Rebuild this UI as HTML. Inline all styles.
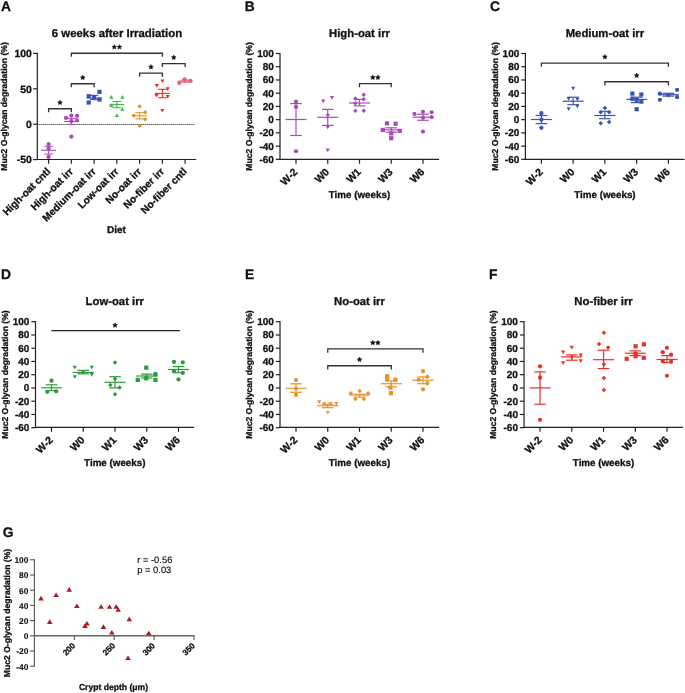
<!DOCTYPE html>
<html><head><meta charset="utf-8"><style>
html,body{margin:0;padding:0;background:#fff;width:685px;height:693px;overflow:hidden}
svg{display:block;will-change:transform}
text{text-rendering:geometricPrecision;stroke-width:0.3px;font-family:"Liberation Sans", sans-serif}
</style></head><body>
<svg width="685" height="693" viewBox="0 0 685 693">
<rect width="685" height="693" fill="#fff"/>
<text x="1.00" y="10.90" font-size="13.8" font-weight="bold" text-anchor="start" fill="#111" stroke="#111">A</text>
<text x="117.00" y="37.20" font-size="11.4" font-weight="bold" text-anchor="middle" fill="#111" stroke="#111">6 weeks after Irradiation</text>
<line x1="37.30" y1="52.80" x2="37.30" y2="160.10" stroke="#222" stroke-width="1.2"/>
<line x1="33.10" y1="53.40" x2="37.30" y2="53.40" stroke="#222" stroke-width="1.2"/>
<text x="31.80" y="57.10" font-size="10.4" font-weight="bold" text-anchor="end" fill="#111" stroke="#111">100</text>
<line x1="33.10" y1="88.80" x2="37.30" y2="88.80" stroke="#222" stroke-width="1.2"/>
<text x="31.80" y="92.50" font-size="10.4" font-weight="bold" text-anchor="end" fill="#111" stroke="#111">50</text>
<line x1="33.10" y1="124.20" x2="37.30" y2="124.20" stroke="#222" stroke-width="1.2"/>
<text x="31.80" y="127.90" font-size="10.4" font-weight="bold" text-anchor="end" fill="#111" stroke="#111">0</text>
<line x1="33.10" y1="159.60" x2="37.30" y2="159.60" stroke="#222" stroke-width="1.2"/>
<text x="31.80" y="163.30" font-size="10.4" font-weight="bold" text-anchor="end" fill="#111" stroke="#111">-50</text>
<line x1="36.70" y1="159.50" x2="196.20" y2="159.50" stroke="#222" stroke-width="1.2"/>
<line x1="48.60" y1="159.50" x2="48.60" y2="163.70" stroke="#222" stroke-width="1.2"/>
<text x="51.00" y="172.10" font-size="10.2" font-weight="bold" text-anchor="end" fill="#111" stroke="#111" transform="rotate(-45 51.00 172.10)">High-oat cntl</text>
<line x1="71.35" y1="159.50" x2="71.35" y2="163.70" stroke="#222" stroke-width="1.2"/>
<text x="73.75" y="172.10" font-size="10.2" font-weight="bold" text-anchor="end" fill="#111" stroke="#111" transform="rotate(-45 73.75 172.10)">High-oat irr</text>
<line x1="94.10" y1="159.50" x2="94.10" y2="163.70" stroke="#222" stroke-width="1.2"/>
<text x="96.50" y="172.10" font-size="10.2" font-weight="bold" text-anchor="end" fill="#111" stroke="#111" transform="rotate(-45 96.50 172.10)">Medium-oat irr</text>
<line x1="116.85" y1="159.50" x2="116.85" y2="163.70" stroke="#222" stroke-width="1.2"/>
<text x="119.25" y="172.10" font-size="10.2" font-weight="bold" text-anchor="end" fill="#111" stroke="#111" transform="rotate(-45 119.25 172.10)">Low-oat irr</text>
<line x1="139.60" y1="159.50" x2="139.60" y2="163.70" stroke="#222" stroke-width="1.2"/>
<text x="142.00" y="172.10" font-size="10.2" font-weight="bold" text-anchor="end" fill="#111" stroke="#111" transform="rotate(-45 142.00 172.10)">No-oat irr</text>
<line x1="162.35" y1="159.50" x2="162.35" y2="163.70" stroke="#222" stroke-width="1.2"/>
<text x="164.75" y="172.10" font-size="10.2" font-weight="bold" text-anchor="end" fill="#111" stroke="#111" transform="rotate(-45 164.75 172.10)">No-fiber irr</text>
<line x1="185.10" y1="159.50" x2="185.10" y2="163.70" stroke="#222" stroke-width="1.2"/>
<text x="187.50" y="172.10" font-size="10.2" font-weight="bold" text-anchor="end" fill="#111" stroke="#111" transform="rotate(-45 187.50 172.10)">No-fiber cntl</text>
<line x1="37.30" y1="124.5" x2="195" y2="124.5" stroke="#222" stroke-width="1.1" stroke-dasharray="1.1 0.9"/>
<text x="7.40" y="106.45" font-size="8.6" font-weight="bold" text-anchor="middle" fill="#111" stroke="#111" transform="rotate(-90 7.40 106.45)">Muc2 O-glycan degradation (%)</text>
<text x="116.50" y="232.60" font-size="10" font-weight="bold" text-anchor="middle" fill="#111" stroke="#111">Diet</text>
<circle cx="48.60" cy="144.10" r="2.10" fill="#a64db5"/>
<circle cx="48.60" cy="148.50" r="2.10" fill="#a64db5"/>
<circle cx="48.60" cy="156.90" r="2.10" fill="#a64db5"/>
<line x1="41.10" y1="150.30" x2="56.10" y2="150.30" stroke="#a64db5" stroke-width="1.1"/>
<line x1="48.60" y1="146.30" x2="48.60" y2="154.10" stroke="#a64db5" stroke-width="1.1"/>
<line x1="44.40" y1="146.30" x2="52.80" y2="146.30" stroke="#a64db5" stroke-width="1.1"/>
<line x1="44.40" y1="154.10" x2="52.80" y2="154.10" stroke="#a64db5" stroke-width="1.1"/>
<circle cx="65.95" cy="117.90" r="2.10" fill="#a64db5"/>
<circle cx="71.35" cy="115.60" r="2.10" fill="#a64db5"/>
<circle cx="77.05" cy="115.90" r="2.10" fill="#a64db5"/>
<circle cx="71.35" cy="121.20" r="2.10" fill="#a64db5"/>
<circle cx="77.05" cy="120.30" r="2.10" fill="#a64db5"/>
<circle cx="71.35" cy="136.60" r="2.10" fill="#a64db5"/>
<line x1="63.85" y1="121.50" x2="78.85" y2="121.50" stroke="#a64db5" stroke-width="1.1"/>
<line x1="71.35" y1="118.50" x2="71.35" y2="124.50" stroke="#a64db5" stroke-width="1.1"/>
<line x1="67.15" y1="118.50" x2="75.55" y2="118.50" stroke="#a64db5" stroke-width="1.1"/>
<line x1="67.15" y1="124.50" x2="75.55" y2="124.50" stroke="#a64db5" stroke-width="1.1"/>
<rect x="86.60" y="94.10" width="4.20" height="4.20" fill="#3b55b0"/>
<rect x="92.00" y="95.10" width="4.20" height="4.20" fill="#3b55b0"/>
<rect x="97.40" y="89.80" width="4.20" height="4.20" fill="#3b55b0"/>
<rect x="97.40" y="97.40" width="4.20" height="4.20" fill="#3b55b0"/>
<rect x="86.60" y="100.40" width="4.20" height="4.20" fill="#3b55b0"/>
<line x1="86.60" y1="98.00" x2="101.60" y2="98.00" stroke="#3b55b0" stroke-width="1.1"/>
<line x1="94.10" y1="95.30" x2="94.10" y2="99.60" stroke="#3b55b0" stroke-width="1.1"/>
<line x1="89.90" y1="95.30" x2="98.30" y2="95.30" stroke="#3b55b0" stroke-width="1.1"/>
<line x1="89.90" y1="99.60" x2="98.30" y2="99.60" stroke="#3b55b0" stroke-width="1.1"/>
<path d="M111.35 95.10L113.45 98.78L109.25 98.78Z" fill="#3cb84a"/>
<path d="M122.35 95.10L124.45 98.78L120.25 98.78Z" fill="#3cb84a"/>
<path d="M111.35 103.30L113.45 106.98L109.25 106.98Z" fill="#3cb84a"/>
<path d="M122.35 107.00L124.45 110.67L120.25 110.67Z" fill="#3cb84a"/>
<path d="M116.85 113.20L118.95 116.88L114.75 116.88Z" fill="#3cb84a"/>
<line x1="109.35" y1="104.60" x2="124.35" y2="104.60" stroke="#3cb84a" stroke-width="1.1"/>
<line x1="116.85" y1="101.50" x2="116.85" y2="107.70" stroke="#3cb84a" stroke-width="1.1"/>
<line x1="112.65" y1="101.50" x2="121.05" y2="101.50" stroke="#3cb84a" stroke-width="1.1"/>
<line x1="112.65" y1="107.70" x2="121.05" y2="107.70" stroke="#3cb84a" stroke-width="1.1"/>
<path d="M139.60 104.35L141.85 106.60L139.60 108.85L137.35 106.60Z" fill="#e8922a"/>
<path d="M145.20 110.05L147.45 112.30L145.20 114.55L142.95 112.30Z" fill="#e8922a"/>
<path d="M133.70 113.35L135.95 115.60L133.70 117.85L131.45 115.60Z" fill="#e8922a"/>
<path d="M145.20 116.95L147.45 119.20L145.20 121.45L142.95 119.20Z" fill="#e8922a"/>
<path d="M139.60 123.55L141.85 125.80L139.60 128.05L137.35 125.80Z" fill="#e8922a"/>
<line x1="132.10" y1="115.80" x2="147.10" y2="115.80" stroke="#e8922a" stroke-width="1.1"/>
<line x1="139.60" y1="112.70" x2="139.60" y2="118.90" stroke="#e8922a" stroke-width="1.1"/>
<line x1="135.40" y1="112.70" x2="143.80" y2="112.70" stroke="#e8922a" stroke-width="1.1"/>
<line x1="135.40" y1="118.90" x2="143.80" y2="118.90" stroke="#e8922a" stroke-width="1.1"/>
<path d="M162.35 83.10L164.45 79.42L160.25 79.42Z" fill="#e8302a"/>
<path d="M156.85 87.80L158.95 84.12L154.75 84.12Z" fill="#e8302a"/>
<path d="M167.65 90.90L169.75 87.22L165.55 87.22Z" fill="#e8302a"/>
<path d="M156.55 97.60L158.65 93.92L154.45 93.92Z" fill="#e8302a"/>
<path d="M167.65 98.70L169.75 95.02L165.55 95.02Z" fill="#e8302a"/>
<path d="M162.35 112.60L164.45 108.92L160.25 108.92Z" fill="#e8302a"/>
<line x1="154.85" y1="93.40" x2="169.85" y2="93.40" stroke="#e8302a" stroke-width="1.1"/>
<line x1="162.35" y1="89.30" x2="162.35" y2="97.70" stroke="#e8302a" stroke-width="1.1"/>
<line x1="158.15" y1="89.30" x2="166.55" y2="89.30" stroke="#e8302a" stroke-width="1.1"/>
<line x1="158.15" y1="97.70" x2="166.55" y2="97.70" stroke="#e8302a" stroke-width="1.1"/>
<circle cx="179.30" cy="83.00" r="2.10" fill="#e06474"/>
<circle cx="184.60" cy="79.40" r="2.10" fill="#e06474"/>
<circle cx="190.50" cy="80.90" r="2.10" fill="#e06474"/>
<line x1="177.60" y1="81.10" x2="192.60" y2="81.10" stroke="#e06474" stroke-width="1.1"/>
<line x1="185.10" y1="80.06" x2="185.10" y2="82.14" stroke="#e06474" stroke-width="1.1"/>
<line x1="180.90" y1="80.06" x2="189.30" y2="80.06" stroke="#e06474" stroke-width="1.1"/>
<line x1="180.90" y1="82.14" x2="189.30" y2="82.14" stroke="#e06474" stroke-width="1.1"/>
<path d="M48.60 112.15V108.75H71.35V112.15" fill="none" stroke="#333" stroke-width="1.3"/>
<polygon points="59.97,100.10 60.68,101.63 62.35,101.83 61.12,102.97 61.44,104.62 59.97,103.80 58.51,104.62 58.83,102.97 57.60,101.83 59.27,101.63" fill="#111" stroke="#111" stroke-width="0.5" stroke-linejoin="round"/>
<path d="M71.35 87.15V83.75H94.10V87.15" fill="none" stroke="#333" stroke-width="1.3"/>
<polygon points="82.72,75.10 83.43,76.63 85.10,76.83 83.87,77.97 84.19,79.62 82.72,78.80 81.26,79.62 81.58,77.97 80.35,76.83 82.02,76.63" fill="#111" stroke="#111" stroke-width="0.5" stroke-linejoin="round"/>
<path d="M71.35 56.65V53.25H162.35V56.65" fill="none" stroke="#333" stroke-width="1.3"/>
<polygon points="114.30,44.60 115.01,46.13 116.68,46.33 115.44,47.47 115.77,49.12 114.30,48.30 112.83,49.12 113.16,47.47 111.92,46.33 113.59,46.13" fill="#111" stroke="#111" stroke-width="0.5" stroke-linejoin="round"/>
<polygon points="119.40,44.60 120.11,46.13 121.78,46.33 120.54,47.47 120.87,49.12 119.40,48.30 117.93,49.12 118.26,47.47 117.02,46.33 118.69,46.13" fill="#111" stroke="#111" stroke-width="0.5" stroke-linejoin="round"/>
<path d="M139.60 76.65V73.15H162.35V76.65" fill="none" stroke="#333" stroke-width="1.3"/>
<polygon points="150.97,64.50 151.68,66.03 153.35,66.23 152.12,67.37 152.44,69.02 150.97,68.20 149.51,69.02 149.83,67.37 148.60,66.23 150.27,66.03" fill="#111" stroke="#111" stroke-width="0.5" stroke-linejoin="round"/>
<path d="M162.35 66.95V63.65H185.10V66.95" fill="none" stroke="#333" stroke-width="1.3"/>
<polygon points="173.72,55.00 174.43,56.53 176.10,56.73 174.87,57.87 175.19,59.52 173.72,58.70 172.26,59.52 172.58,57.87 171.35,56.73 173.02,56.53" fill="#111" stroke="#111" stroke-width="0.5" stroke-linejoin="round"/>
<text x="244.70" y="11.10" font-size="13.8" font-weight="bold" text-anchor="start" fill="#111" stroke="#111">B</text>
<text x="359.50" y="37.10" font-size="11.3" font-weight="bold" text-anchor="middle" fill="#111" stroke="#111">High-oat irr</text>
<line x1="280.00" y1="52.90" x2="280.00" y2="159.95" stroke="#222" stroke-width="1.2"/>
<line x1="275.80" y1="159.34" x2="280.00" y2="159.34" stroke="#222" stroke-width="1.2"/>
<text x="273.90" y="162.84" font-size="10" font-weight="bold" text-anchor="end" fill="#111" stroke="#111">-60</text>
<line x1="275.80" y1="146.11" x2="280.00" y2="146.11" stroke="#222" stroke-width="1.2"/>
<text x="273.90" y="149.61" font-size="10" font-weight="bold" text-anchor="end" fill="#111" stroke="#111">-40</text>
<line x1="275.80" y1="132.88" x2="280.00" y2="132.88" stroke="#222" stroke-width="1.2"/>
<text x="273.90" y="136.38" font-size="10" font-weight="bold" text-anchor="end" fill="#111" stroke="#111">-20</text>
<line x1="275.80" y1="119.65" x2="280.00" y2="119.65" stroke="#222" stroke-width="1.2"/>
<text x="273.90" y="123.15" font-size="10" font-weight="bold" text-anchor="end" fill="#111" stroke="#111">0</text>
<line x1="275.80" y1="106.42" x2="280.00" y2="106.42" stroke="#222" stroke-width="1.2"/>
<text x="273.90" y="109.92" font-size="10" font-weight="bold" text-anchor="end" fill="#111" stroke="#111">20</text>
<line x1="275.80" y1="93.19" x2="280.00" y2="93.19" stroke="#222" stroke-width="1.2"/>
<text x="273.90" y="96.69" font-size="10" font-weight="bold" text-anchor="end" fill="#111" stroke="#111">40</text>
<line x1="275.80" y1="79.96" x2="280.00" y2="79.96" stroke="#222" stroke-width="1.2"/>
<text x="273.90" y="83.46" font-size="10" font-weight="bold" text-anchor="end" fill="#111" stroke="#111">60</text>
<line x1="275.80" y1="66.73" x2="280.00" y2="66.73" stroke="#222" stroke-width="1.2"/>
<text x="273.90" y="70.23" font-size="10" font-weight="bold" text-anchor="end" fill="#111" stroke="#111">80</text>
<line x1="275.80" y1="53.50" x2="280.00" y2="53.50" stroke="#222" stroke-width="1.2"/>
<text x="273.90" y="57.00" font-size="10" font-weight="bold" text-anchor="end" fill="#111" stroke="#111">100</text>
<line x1="279.40" y1="159.35" x2="439.00" y2="159.35" stroke="#222" stroke-width="1.2"/>
<line x1="296.00" y1="159.35" x2="296.00" y2="163.75" stroke="#222" stroke-width="1.2"/>
<text x="298.20" y="172.55" font-size="10.4" font-weight="bold" text-anchor="end" fill="#111" stroke="#111" transform="rotate(-45 298.20 172.55)">W-2</text>
<line x1="327.75" y1="159.35" x2="327.75" y2="163.75" stroke="#222" stroke-width="1.2"/>
<text x="329.95" y="172.55" font-size="10.4" font-weight="bold" text-anchor="end" fill="#111" stroke="#111" transform="rotate(-45 329.95 172.55)">W0</text>
<line x1="359.50" y1="159.35" x2="359.50" y2="163.75" stroke="#222" stroke-width="1.2"/>
<text x="361.70" y="172.55" font-size="10.4" font-weight="bold" text-anchor="end" fill="#111" stroke="#111" transform="rotate(-45 361.70 172.55)">W1</text>
<line x1="391.25" y1="159.35" x2="391.25" y2="163.75" stroke="#222" stroke-width="1.2"/>
<text x="393.45" y="172.55" font-size="10.4" font-weight="bold" text-anchor="end" fill="#111" stroke="#111" transform="rotate(-45 393.45 172.55)">W3</text>
<line x1="423.00" y1="159.35" x2="423.00" y2="163.75" stroke="#222" stroke-width="1.2"/>
<text x="425.20" y="172.55" font-size="10.4" font-weight="bold" text-anchor="end" fill="#111" stroke="#111" transform="rotate(-45 425.20 172.55)">W6</text>
<text x="252.20" y="106.42" font-size="8.6" font-weight="bold" text-anchor="middle" fill="#111" stroke="#111" transform="rotate(-90 252.20 106.42)">Muc2 O-glycan degradation (%)</text>
<text x="359.50" y="197.95" font-size="9.8" font-weight="bold" text-anchor="middle" fill="#111" stroke="#111">Time (weeks)</text>
<circle cx="296.00" cy="101.72" r="2.10" fill="#a64db5"/>
<circle cx="296.00" cy="106.95" r="2.10" fill="#a64db5"/>
<circle cx="296.00" cy="151.27" r="2.10" fill="#a64db5"/>
<line x1="285.50" y1="119.50" x2="306.50" y2="119.50" stroke="#a64db5" stroke-width="1.2"/>
<line x1="296.00" y1="103.60" x2="296.00" y2="135.50" stroke="#a64db5" stroke-width="1.2"/>
<line x1="290.20" y1="103.60" x2="301.80" y2="103.60" stroke="#a64db5" stroke-width="1.2"/>
<line x1="290.20" y1="135.50" x2="301.80" y2="135.50" stroke="#a64db5" stroke-width="1.2"/>
<path d="M323.25 103.29L325.35 99.62L321.15 99.62Z" fill="#a64db5"/>
<path d="M331.95 99.79L334.05 96.11L329.85 96.11Z" fill="#a64db5"/>
<path d="M327.75 117.78L329.85 114.11L325.65 114.11Z" fill="#a64db5"/>
<path d="M327.75 129.36L329.85 125.68L325.65 125.68Z" fill="#a64db5"/>
<path d="M327.75 152.18L329.85 148.50L325.65 148.50Z" fill="#a64db5"/>
<line x1="317.25" y1="117.30" x2="338.25" y2="117.30" stroke="#a64db5" stroke-width="1.2"/>
<line x1="327.75" y1="109.40" x2="327.75" y2="125.40" stroke="#a64db5" stroke-width="1.2"/>
<line x1="321.95" y1="109.40" x2="333.55" y2="109.40" stroke="#a64db5" stroke-width="1.2"/>
<line x1="321.95" y1="125.40" x2="333.55" y2="125.40" stroke="#a64db5" stroke-width="1.2"/>
<path d="M363.70 92.53L365.95 94.78L363.70 97.03L361.45 94.78Z" fill="#a64db5"/>
<path d="M355.40 96.17L357.65 98.42L355.40 100.67L353.15 98.42Z" fill="#a64db5"/>
<path d="M363.70 97.03L365.95 99.28L363.70 101.53L361.45 99.28Z" fill="#a64db5"/>
<path d="M355.40 100.93L357.65 103.18L355.40 105.43L353.15 103.18Z" fill="#a64db5"/>
<path d="M355.40 108.60L357.65 110.85L355.40 113.10L353.15 110.85Z" fill="#a64db5"/>
<path d="M363.70 108.60L365.95 110.85L363.70 113.10L361.45 110.85Z" fill="#a64db5"/>
<line x1="349.00" y1="103.00" x2="370.00" y2="103.00" stroke="#a64db5" stroke-width="1.2"/>
<line x1="359.50" y1="99.40" x2="359.50" y2="105.80" stroke="#a64db5" stroke-width="1.2"/>
<line x1="353.70" y1="99.40" x2="365.30" y2="99.40" stroke="#a64db5" stroke-width="1.2"/>
<line x1="353.70" y1="105.80" x2="365.30" y2="105.80" stroke="#a64db5" stroke-width="1.2"/>
<rect x="384.85" y="121.25" width="4.20" height="4.20" fill="#a64db5"/>
<rect x="393.55" y="121.65" width="4.20" height="4.20" fill="#a64db5"/>
<rect x="380.75" y="127.80" width="4.20" height="4.20" fill="#a64db5"/>
<rect x="397.65" y="128.80" width="4.20" height="4.20" fill="#a64db5"/>
<rect x="389.15" y="131.31" width="4.20" height="4.20" fill="#a64db5"/>
<rect x="389.15" y="136.07" width="4.20" height="4.20" fill="#a64db5"/>
<line x1="380.75" y1="129.90" x2="401.75" y2="129.90" stroke="#a64db5" stroke-width="1.2"/>
<line x1="391.25" y1="127.80" x2="391.25" y2="132.20" stroke="#a64db5" stroke-width="1.2"/>
<line x1="385.45" y1="127.80" x2="397.05" y2="127.80" stroke="#a64db5" stroke-width="1.2"/>
<line x1="385.45" y1="132.20" x2="397.05" y2="132.20" stroke="#a64db5" stroke-width="1.2"/>
<circle cx="414.50" cy="113.96" r="2.10" fill="#a64db5"/>
<circle cx="423.00" cy="111.84" r="2.10" fill="#a64db5"/>
<circle cx="431.60" cy="112.24" r="2.10" fill="#a64db5"/>
<circle cx="431.60" cy="117.07" r="2.10" fill="#a64db5"/>
<circle cx="423.00" cy="117.73" r="2.10" fill="#a64db5"/>
<circle cx="423.00" cy="131.62" r="2.10" fill="#a64db5"/>
<line x1="412.50" y1="117.20" x2="433.50" y2="117.20" stroke="#a64db5" stroke-width="1.2"/>
<line x1="423.00" y1="114.20" x2="423.00" y2="120.30" stroke="#a64db5" stroke-width="1.2"/>
<line x1="417.20" y1="114.20" x2="428.80" y2="114.20" stroke="#a64db5" stroke-width="1.2"/>
<line x1="417.20" y1="120.30" x2="428.80" y2="120.30" stroke="#a64db5" stroke-width="1.2"/>
<path d="M359.50 87.35V83.65H391.25V87.35" fill="none" stroke="#333" stroke-width="1.3"/>
<polygon points="372.82,75.00 373.53,76.53 375.20,76.73 373.97,77.87 374.29,79.52 372.82,78.70 371.36,79.52 371.68,77.87 370.45,76.73 372.12,76.53" fill="#111" stroke="#111" stroke-width="0.5" stroke-linejoin="round"/>
<polygon points="377.93,75.00 378.63,76.53 380.30,76.73 379.07,77.87 379.39,79.52 377.93,78.70 376.46,79.52 376.78,77.87 375.55,76.73 377.22,76.53" fill="#111" stroke="#111" stroke-width="0.5" stroke-linejoin="round"/>
<text x="490.10" y="11.10" font-size="13.8" font-weight="bold" text-anchor="start" fill="#111" stroke="#111">C</text>
<text x="604.95" y="37.10" font-size="11.3" font-weight="bold" text-anchor="middle" fill="#111" stroke="#111">Medium-oat irr</text>
<line x1="525.40" y1="52.90" x2="525.40" y2="159.95" stroke="#222" stroke-width="1.2"/>
<line x1="521.20" y1="159.34" x2="525.40" y2="159.34" stroke="#222" stroke-width="1.2"/>
<text x="519.30" y="162.84" font-size="10" font-weight="bold" text-anchor="end" fill="#111" stroke="#111">-60</text>
<line x1="521.20" y1="146.11" x2="525.40" y2="146.11" stroke="#222" stroke-width="1.2"/>
<text x="519.30" y="149.61" font-size="10" font-weight="bold" text-anchor="end" fill="#111" stroke="#111">-40</text>
<line x1="521.20" y1="132.88" x2="525.40" y2="132.88" stroke="#222" stroke-width="1.2"/>
<text x="519.30" y="136.38" font-size="10" font-weight="bold" text-anchor="end" fill="#111" stroke="#111">-20</text>
<line x1="521.20" y1="119.65" x2="525.40" y2="119.65" stroke="#222" stroke-width="1.2"/>
<text x="519.30" y="123.15" font-size="10" font-weight="bold" text-anchor="end" fill="#111" stroke="#111">0</text>
<line x1="521.20" y1="106.42" x2="525.40" y2="106.42" stroke="#222" stroke-width="1.2"/>
<text x="519.30" y="109.92" font-size="10" font-weight="bold" text-anchor="end" fill="#111" stroke="#111">20</text>
<line x1="521.20" y1="93.19" x2="525.40" y2="93.19" stroke="#222" stroke-width="1.2"/>
<text x="519.30" y="96.69" font-size="10" font-weight="bold" text-anchor="end" fill="#111" stroke="#111">40</text>
<line x1="521.20" y1="79.96" x2="525.40" y2="79.96" stroke="#222" stroke-width="1.2"/>
<text x="519.30" y="83.46" font-size="10" font-weight="bold" text-anchor="end" fill="#111" stroke="#111">60</text>
<line x1="521.20" y1="66.73" x2="525.40" y2="66.73" stroke="#222" stroke-width="1.2"/>
<text x="519.30" y="70.23" font-size="10" font-weight="bold" text-anchor="end" fill="#111" stroke="#111">80</text>
<line x1="521.20" y1="53.50" x2="525.40" y2="53.50" stroke="#222" stroke-width="1.2"/>
<text x="519.30" y="57.00" font-size="10" font-weight="bold" text-anchor="end" fill="#111" stroke="#111">100</text>
<line x1="524.80" y1="159.35" x2="684.50" y2="159.35" stroke="#222" stroke-width="1.2"/>
<line x1="541.40" y1="159.35" x2="541.40" y2="163.75" stroke="#222" stroke-width="1.2"/>
<text x="543.60" y="172.55" font-size="10.4" font-weight="bold" text-anchor="end" fill="#111" stroke="#111" transform="rotate(-45 543.60 172.55)">W-2</text>
<line x1="573.15" y1="159.35" x2="573.15" y2="163.75" stroke="#222" stroke-width="1.2"/>
<text x="575.35" y="172.55" font-size="10.4" font-weight="bold" text-anchor="end" fill="#111" stroke="#111" transform="rotate(-45 575.35 172.55)">W0</text>
<line x1="604.90" y1="159.35" x2="604.90" y2="163.75" stroke="#222" stroke-width="1.2"/>
<text x="607.10" y="172.55" font-size="10.4" font-weight="bold" text-anchor="end" fill="#111" stroke="#111" transform="rotate(-45 607.10 172.55)">W1</text>
<line x1="636.65" y1="159.35" x2="636.65" y2="163.75" stroke="#222" stroke-width="1.2"/>
<text x="638.85" y="172.55" font-size="10.4" font-weight="bold" text-anchor="end" fill="#111" stroke="#111" transform="rotate(-45 638.85 172.55)">W3</text>
<line x1="668.40" y1="159.35" x2="668.40" y2="163.75" stroke="#222" stroke-width="1.2"/>
<text x="670.60" y="172.55" font-size="10.4" font-weight="bold" text-anchor="end" fill="#111" stroke="#111" transform="rotate(-45 670.60 172.55)">W6</text>
<text x="497.60" y="106.42" font-size="8.6" font-weight="bold" text-anchor="middle" fill="#111" stroke="#111" transform="rotate(-90 497.60 106.42)">Muc2 O-glycan degradation (%)</text>
<text x="604.95" y="197.95" font-size="9.8" font-weight="bold" text-anchor="middle" fill="#111" stroke="#111">Time (weeks)</text>
<circle cx="541.40" cy="113.17" r="2.10" fill="#3b55b0"/>
<circle cx="541.40" cy="119.65" r="2.10" fill="#3b55b0"/>
<circle cx="541.40" cy="127.85" r="2.10" fill="#3b55b0"/>
<line x1="530.90" y1="119.50" x2="551.90" y2="119.50" stroke="#3b55b0" stroke-width="1.2"/>
<line x1="541.40" y1="115.50" x2="541.40" y2="123.60" stroke="#3b55b0" stroke-width="1.2"/>
<line x1="535.60" y1="115.50" x2="547.20" y2="115.50" stroke="#3b55b0" stroke-width="1.2"/>
<line x1="535.60" y1="123.60" x2="547.20" y2="123.60" stroke="#3b55b0" stroke-width="1.2"/>
<path d="M573.15 90.33L575.25 86.65L571.05 86.65Z" fill="#3b55b0"/>
<path d="M568.65 100.78L570.75 97.11L566.55 97.11Z" fill="#3b55b0"/>
<path d="M577.35 101.31L579.45 97.63L575.25 97.63Z" fill="#3b55b0"/>
<path d="M568.65 110.90L570.75 107.23L566.55 107.23Z" fill="#3b55b0"/>
<path d="M577.35 108.26L579.45 104.58L575.25 104.58Z" fill="#3b55b0"/>
<line x1="562.65" y1="101.20" x2="583.65" y2="101.20" stroke="#3b55b0" stroke-width="1.2"/>
<line x1="573.15" y1="97.20" x2="573.15" y2="104.70" stroke="#3b55b0" stroke-width="1.2"/>
<line x1="567.35" y1="97.20" x2="578.95" y2="97.20" stroke="#3b55b0" stroke-width="1.2"/>
<line x1="567.35" y1="104.70" x2="578.95" y2="104.70" stroke="#3b55b0" stroke-width="1.2"/>
<path d="M604.90 105.82L607.15 108.07L604.90 110.32L602.65 108.07Z" fill="#3b55b0"/>
<path d="M600.70 109.99L602.95 112.24L600.70 114.49L598.45 112.24Z" fill="#3b55b0"/>
<path d="M609.10 109.99L611.35 112.24L609.10 114.49L606.85 112.24Z" fill="#3b55b0"/>
<path d="M600.70 120.97L602.95 123.22L600.70 125.47L598.45 123.22Z" fill="#3b55b0"/>
<path d="M609.10 119.78L611.35 122.03L609.10 124.28L606.85 122.03Z" fill="#3b55b0"/>
<line x1="594.40" y1="115.50" x2="615.40" y2="115.50" stroke="#3b55b0" stroke-width="1.2"/>
<line x1="604.90" y1="111.30" x2="604.90" y2="118.70" stroke="#3b55b0" stroke-width="1.2"/>
<line x1="599.10" y1="111.30" x2="610.70" y2="111.30" stroke="#3b55b0" stroke-width="1.2"/>
<line x1="599.10" y1="118.70" x2="610.70" y2="118.70" stroke="#3b55b0" stroke-width="1.2"/>
<rect x="630.25" y="91.49" width="4.20" height="4.20" fill="#3b55b0"/>
<rect x="639.25" y="92.41" width="4.20" height="4.20" fill="#3b55b0"/>
<rect x="630.25" y="96.71" width="4.20" height="4.20" fill="#3b55b0"/>
<rect x="639.25" y="99.49" width="4.20" height="4.20" fill="#3b55b0"/>
<rect x="634.55" y="107.10" width="4.20" height="4.20" fill="#3b55b0"/>
<rect x="634.55" y="97.71" width="4.20" height="4.20" fill="#3b55b0"/>
<line x1="626.15" y1="99.40" x2="647.15" y2="99.40" stroke="#3b55b0" stroke-width="1.2"/>
<line x1="636.65" y1="97.20" x2="636.65" y2="102.60" stroke="#3b55b0" stroke-width="1.2"/>
<line x1="630.85" y1="97.20" x2="642.45" y2="97.20" stroke="#3b55b0" stroke-width="1.2"/>
<line x1="630.85" y1="102.60" x2="642.45" y2="102.60" stroke="#3b55b0" stroke-width="1.2"/>
<circle cx="659.90" cy="93.59" r="2.10" fill="#3b55b0"/>
<circle cx="677.10" cy="89.82" r="2.10" fill="#3b55b0"/>
<circle cx="677.10" cy="97.16" r="2.10" fill="#3b55b0"/>
<circle cx="659.90" cy="99.81" r="2.10" fill="#3b55b0"/>
<circle cx="668.40" cy="95.17" r="2.10" fill="#3b55b0"/>
<line x1="657.90" y1="94.70" x2="678.90" y2="94.70" stroke="#3b55b0" stroke-width="1.2"/>
<line x1="668.40" y1="93.30" x2="668.40" y2="96.10" stroke="#3b55b0" stroke-width="1.2"/>
<line x1="662.60" y1="93.30" x2="674.20" y2="93.30" stroke="#3b55b0" stroke-width="1.2"/>
<line x1="662.60" y1="96.10" x2="674.20" y2="96.10" stroke="#3b55b0" stroke-width="1.2"/>
<path d="M541.40 66.75V63.05H668.40V66.75" fill="none" stroke="#333" stroke-width="1.3"/>
<polygon points="604.90,54.40 605.61,55.93 607.28,56.13 606.04,57.27 606.37,58.92 604.90,58.10 603.43,58.92 603.76,57.27 602.52,56.13 604.19,55.93" fill="#111" stroke="#111" stroke-width="0.5" stroke-linejoin="round"/>
<path d="M604.90 85.45V81.75H668.40V85.45" fill="none" stroke="#333" stroke-width="1.3"/>
<polygon points="636.65,73.10 637.36,74.63 639.03,74.83 637.79,75.97 638.12,77.62 636.65,76.80 635.18,77.62 635.51,75.97 634.27,74.83 635.94,74.63" fill="#111" stroke="#111" stroke-width="0.5" stroke-linejoin="round"/>
<text x="1.00" y="278.70" font-size="13.8" font-weight="bold" text-anchor="start" fill="#111" stroke="#111">D</text>
<text x="114.80" y="305.30" font-size="11.3" font-weight="bold" text-anchor="middle" fill="#111" stroke="#111">Low-oat irr</text>
<line x1="35.50" y1="321.10" x2="35.50" y2="428.00" stroke="#222" stroke-width="1.2"/>
<line x1="31.30" y1="427.70" x2="35.50" y2="427.70" stroke="#222" stroke-width="1.2"/>
<text x="29.40" y="431.20" font-size="10" font-weight="bold" text-anchor="end" fill="#111" stroke="#111">-60</text>
<line x1="31.30" y1="414.45" x2="35.50" y2="414.45" stroke="#222" stroke-width="1.2"/>
<text x="29.40" y="417.95" font-size="10" font-weight="bold" text-anchor="end" fill="#111" stroke="#111">-40</text>
<line x1="31.30" y1="401.20" x2="35.50" y2="401.20" stroke="#222" stroke-width="1.2"/>
<text x="29.40" y="404.70" font-size="10" font-weight="bold" text-anchor="end" fill="#111" stroke="#111">-20</text>
<line x1="31.30" y1="387.95" x2="35.50" y2="387.95" stroke="#222" stroke-width="1.2"/>
<text x="29.40" y="391.45" font-size="10" font-weight="bold" text-anchor="end" fill="#111" stroke="#111">0</text>
<line x1="31.30" y1="374.70" x2="35.50" y2="374.70" stroke="#222" stroke-width="1.2"/>
<text x="29.40" y="378.20" font-size="10" font-weight="bold" text-anchor="end" fill="#111" stroke="#111">20</text>
<line x1="31.30" y1="361.45" x2="35.50" y2="361.45" stroke="#222" stroke-width="1.2"/>
<text x="29.40" y="364.95" font-size="10" font-weight="bold" text-anchor="end" fill="#111" stroke="#111">40</text>
<line x1="31.30" y1="348.20" x2="35.50" y2="348.20" stroke="#222" stroke-width="1.2"/>
<text x="29.40" y="351.70" font-size="10" font-weight="bold" text-anchor="end" fill="#111" stroke="#111">60</text>
<line x1="31.30" y1="334.95" x2="35.50" y2="334.95" stroke="#222" stroke-width="1.2"/>
<text x="29.40" y="338.45" font-size="10" font-weight="bold" text-anchor="end" fill="#111" stroke="#111">80</text>
<line x1="31.30" y1="321.70" x2="35.50" y2="321.70" stroke="#222" stroke-width="1.2"/>
<text x="29.40" y="325.20" font-size="10" font-weight="bold" text-anchor="end" fill="#111" stroke="#111">100</text>
<line x1="34.90" y1="427.40" x2="194.10" y2="427.40" stroke="#222" stroke-width="1.2"/>
<line x1="51.50" y1="427.40" x2="51.50" y2="431.80" stroke="#222" stroke-width="1.2"/>
<text x="53.70" y="440.60" font-size="10.4" font-weight="bold" text-anchor="end" fill="#111" stroke="#111" transform="rotate(-45 53.70 440.60)">W-2</text>
<line x1="83.25" y1="427.40" x2="83.25" y2="431.80" stroke="#222" stroke-width="1.2"/>
<text x="85.45" y="440.60" font-size="10.4" font-weight="bold" text-anchor="end" fill="#111" stroke="#111" transform="rotate(-45 85.45 440.60)">W0</text>
<line x1="115.00" y1="427.40" x2="115.00" y2="431.80" stroke="#222" stroke-width="1.2"/>
<text x="117.20" y="440.60" font-size="10.4" font-weight="bold" text-anchor="end" fill="#111" stroke="#111" transform="rotate(-45 117.20 440.60)">W1</text>
<line x1="146.75" y1="427.40" x2="146.75" y2="431.80" stroke="#222" stroke-width="1.2"/>
<text x="148.95" y="440.60" font-size="10.4" font-weight="bold" text-anchor="end" fill="#111" stroke="#111" transform="rotate(-45 148.95 440.60)">W3</text>
<line x1="178.50" y1="427.40" x2="178.50" y2="431.80" stroke="#222" stroke-width="1.2"/>
<text x="180.70" y="440.60" font-size="10.4" font-weight="bold" text-anchor="end" fill="#111" stroke="#111" transform="rotate(-45 180.70 440.60)">W6</text>
<text x="7.70" y="374.55" font-size="8.6" font-weight="bold" text-anchor="middle" fill="#111" stroke="#111" transform="rotate(-90 7.70 374.55)">Muc2 O-glycan degradation (%)</text>
<text x="114.80" y="466.00" font-size="9.8" font-weight="bold" text-anchor="middle" fill="#111" stroke="#111">Time (weeks)</text>
<circle cx="51.50" cy="380.66" r="2.10" fill="#2e9a3e"/>
<circle cx="47.20" cy="391.79" r="2.10" fill="#2e9a3e"/>
<circle cx="56.10" cy="391.26" r="2.10" fill="#2e9a3e"/>
<line x1="41.00" y1="387.80" x2="62.00" y2="387.80" stroke="#2e9a3e" stroke-width="1.2"/>
<line x1="51.50" y1="384.80" x2="51.50" y2="390.60" stroke="#2e9a3e" stroke-width="1.2"/>
<line x1="45.70" y1="384.80" x2="57.30" y2="384.80" stroke="#2e9a3e" stroke-width="1.2"/>
<line x1="45.70" y1="390.60" x2="57.30" y2="390.60" stroke="#2e9a3e" stroke-width="1.2"/>
<path d="M74.75 369.38L76.85 365.70L72.65 365.70Z" fill="#2e9a3e"/>
<path d="M91.75 369.38L93.85 365.70L89.65 365.70Z" fill="#2e9a3e"/>
<path d="M74.75 378.85L76.85 375.18L72.65 375.18Z" fill="#2e9a3e"/>
<path d="M91.75 376.67L93.85 372.99L89.65 372.99Z" fill="#2e9a3e"/>
<path d="M83.25 374.81L85.35 371.14L81.15 371.14Z" fill="#2e9a3e"/>
<line x1="72.75" y1="372.40" x2="93.75" y2="372.40" stroke="#2e9a3e" stroke-width="1.2"/>
<line x1="83.25" y1="370.30" x2="83.25" y2="373.80" stroke="#2e9a3e" stroke-width="1.2"/>
<line x1="77.45" y1="370.30" x2="89.05" y2="370.30" stroke="#2e9a3e" stroke-width="1.2"/>
<line x1="77.45" y1="373.80" x2="89.05" y2="373.80" stroke="#2e9a3e" stroke-width="1.2"/>
<path d="M115.00 360.19L117.25 362.44L115.00 364.69L112.75 362.44Z" fill="#2e9a3e"/>
<path d="M115.00 376.49L117.25 378.74L115.00 380.99L112.75 378.74Z" fill="#2e9a3e"/>
<path d="M110.40 382.65L112.65 384.90L110.40 387.15L108.15 384.90Z" fill="#2e9a3e"/>
<path d="M119.60 385.30L121.85 387.55L119.60 389.80L117.35 387.55Z" fill="#2e9a3e"/>
<path d="M115.00 391.93L117.25 394.18L115.00 396.43L112.75 394.18Z" fill="#2e9a3e"/>
<line x1="104.50" y1="382.30" x2="125.50" y2="382.30" stroke="#2e9a3e" stroke-width="1.2"/>
<line x1="115.00" y1="376.70" x2="115.00" y2="387.90" stroke="#2e9a3e" stroke-width="1.2"/>
<line x1="109.20" y1="376.70" x2="120.80" y2="376.70" stroke="#2e9a3e" stroke-width="1.2"/>
<line x1="109.20" y1="387.90" x2="120.80" y2="387.90" stroke="#2e9a3e" stroke-width="1.2"/>
<rect x="144.15" y="365.58" width="4.20" height="4.20" fill="#2e9a3e"/>
<rect x="135.65" y="377.77" width="4.20" height="4.20" fill="#2e9a3e"/>
<rect x="153.35" y="372.14" width="4.20" height="4.20" fill="#2e9a3e"/>
<rect x="144.15" y="376.18" width="4.20" height="4.20" fill="#2e9a3e"/>
<rect x="153.35" y="377.77" width="4.20" height="4.20" fill="#2e9a3e"/>
<line x1="136.25" y1="376.00" x2="157.25" y2="376.00" stroke="#2e9a3e" stroke-width="1.2"/>
<line x1="146.75" y1="374.10" x2="146.75" y2="378.00" stroke="#2e9a3e" stroke-width="1.2"/>
<line x1="140.95" y1="374.10" x2="152.55" y2="374.10" stroke="#2e9a3e" stroke-width="1.2"/>
<line x1="140.95" y1="378.00" x2="152.55" y2="378.00" stroke="#2e9a3e" stroke-width="1.2"/>
<circle cx="174.00" cy="361.91" r="2.10" fill="#2e9a3e"/>
<circle cx="182.80" cy="362.31" r="2.10" fill="#2e9a3e"/>
<circle cx="174.00" cy="371.19" r="2.10" fill="#2e9a3e"/>
<circle cx="182.80" cy="372.91" r="2.10" fill="#2e9a3e"/>
<circle cx="178.50" cy="379.47" r="2.10" fill="#2e9a3e"/>
<line x1="168.00" y1="369.50" x2="189.00" y2="369.50" stroke="#2e9a3e" stroke-width="1.2"/>
<line x1="178.50" y1="366.60" x2="178.50" y2="372.70" stroke="#2e9a3e" stroke-width="1.2"/>
<line x1="172.70" y1="366.60" x2="184.30" y2="366.60" stroke="#2e9a3e" stroke-width="1.2"/>
<line x1="172.70" y1="372.70" x2="184.30" y2="372.70" stroke="#2e9a3e" stroke-width="1.2"/>
<line x1="51.40" y1="330.60" x2="179.90" y2="330.60" stroke="#222" stroke-width="1.2"/>
<polygon points="115.10,322.80 115.81,324.33 117.48,324.53 116.24,325.67 116.57,327.32 115.10,326.50 113.63,327.32 113.96,325.67 112.72,324.53 114.39,324.33" fill="#111" stroke="#111" stroke-width="0.5" stroke-linejoin="round"/>
<text x="245.10" y="278.70" font-size="13.8" font-weight="bold" text-anchor="start" fill="#111" stroke="#111">E</text>
<text x="359.50" y="305.30" font-size="11.3" font-weight="bold" text-anchor="middle" fill="#111" stroke="#111">No-oat irr</text>
<line x1="280.00" y1="321.10" x2="280.00" y2="428.00" stroke="#222" stroke-width="1.2"/>
<line x1="275.80" y1="427.70" x2="280.00" y2="427.70" stroke="#222" stroke-width="1.2"/>
<text x="273.90" y="431.20" font-size="10" font-weight="bold" text-anchor="end" fill="#111" stroke="#111">-60</text>
<line x1="275.80" y1="414.45" x2="280.00" y2="414.45" stroke="#222" stroke-width="1.2"/>
<text x="273.90" y="417.95" font-size="10" font-weight="bold" text-anchor="end" fill="#111" stroke="#111">-40</text>
<line x1="275.80" y1="401.20" x2="280.00" y2="401.20" stroke="#222" stroke-width="1.2"/>
<text x="273.90" y="404.70" font-size="10" font-weight="bold" text-anchor="end" fill="#111" stroke="#111">-20</text>
<line x1="275.80" y1="387.95" x2="280.00" y2="387.95" stroke="#222" stroke-width="1.2"/>
<text x="273.90" y="391.45" font-size="10" font-weight="bold" text-anchor="end" fill="#111" stroke="#111">0</text>
<line x1="275.80" y1="374.70" x2="280.00" y2="374.70" stroke="#222" stroke-width="1.2"/>
<text x="273.90" y="378.20" font-size="10" font-weight="bold" text-anchor="end" fill="#111" stroke="#111">20</text>
<line x1="275.80" y1="361.45" x2="280.00" y2="361.45" stroke="#222" stroke-width="1.2"/>
<text x="273.90" y="364.95" font-size="10" font-weight="bold" text-anchor="end" fill="#111" stroke="#111">40</text>
<line x1="275.80" y1="348.20" x2="280.00" y2="348.20" stroke="#222" stroke-width="1.2"/>
<text x="273.90" y="351.70" font-size="10" font-weight="bold" text-anchor="end" fill="#111" stroke="#111">60</text>
<line x1="275.80" y1="334.95" x2="280.00" y2="334.95" stroke="#222" stroke-width="1.2"/>
<text x="273.90" y="338.45" font-size="10" font-weight="bold" text-anchor="end" fill="#111" stroke="#111">80</text>
<line x1="275.80" y1="321.70" x2="280.00" y2="321.70" stroke="#222" stroke-width="1.2"/>
<text x="273.90" y="325.20" font-size="10" font-weight="bold" text-anchor="end" fill="#111" stroke="#111">100</text>
<line x1="279.40" y1="427.40" x2="439.00" y2="427.40" stroke="#222" stroke-width="1.2"/>
<line x1="296.00" y1="427.40" x2="296.00" y2="431.80" stroke="#222" stroke-width="1.2"/>
<text x="298.20" y="440.60" font-size="10.4" font-weight="bold" text-anchor="end" fill="#111" stroke="#111" transform="rotate(-45 298.20 440.60)">W-2</text>
<line x1="327.75" y1="427.40" x2="327.75" y2="431.80" stroke="#222" stroke-width="1.2"/>
<text x="329.95" y="440.60" font-size="10.4" font-weight="bold" text-anchor="end" fill="#111" stroke="#111" transform="rotate(-45 329.95 440.60)">W0</text>
<line x1="359.50" y1="427.40" x2="359.50" y2="431.80" stroke="#222" stroke-width="1.2"/>
<text x="361.70" y="440.60" font-size="10.4" font-weight="bold" text-anchor="end" fill="#111" stroke="#111" transform="rotate(-45 361.70 440.60)">W1</text>
<line x1="391.25" y1="427.40" x2="391.25" y2="431.80" stroke="#222" stroke-width="1.2"/>
<text x="393.45" y="440.60" font-size="10.4" font-weight="bold" text-anchor="end" fill="#111" stroke="#111" transform="rotate(-45 393.45 440.60)">W3</text>
<line x1="423.00" y1="427.40" x2="423.00" y2="431.80" stroke="#222" stroke-width="1.2"/>
<text x="425.20" y="440.60" font-size="10.4" font-weight="bold" text-anchor="end" fill="#111" stroke="#111" transform="rotate(-45 425.20 440.60)">W6</text>
<text x="252.20" y="374.55" font-size="8.6" font-weight="bold" text-anchor="middle" fill="#111" stroke="#111" transform="rotate(-90 252.20 374.55)">Muc2 O-glycan degradation (%)</text>
<text x="359.50" y="466.00" font-size="9.8" font-weight="bold" text-anchor="middle" fill="#111" stroke="#111">Time (weeks)</text>
<circle cx="296.00" cy="380.00" r="2.10" fill="#e8922a"/>
<circle cx="296.00" cy="388.61" r="2.10" fill="#e8922a"/>
<circle cx="296.00" cy="394.97" r="2.10" fill="#e8922a"/>
<line x1="285.50" y1="388.30" x2="306.50" y2="388.30" stroke="#e8922a" stroke-width="1.2"/>
<line x1="296.00" y1="383.80" x2="296.00" y2="392.30" stroke="#e8922a" stroke-width="1.2"/>
<line x1="290.20" y1="383.80" x2="301.80" y2="383.80" stroke="#e8922a" stroke-width="1.2"/>
<line x1="290.20" y1="392.30" x2="301.80" y2="392.30" stroke="#e8922a" stroke-width="1.2"/>
<path d="M319.25 403.96L321.35 400.29L317.15 400.29Z" fill="#e8922a"/>
<path d="M336.25 405.55L338.35 401.88L334.15 401.88Z" fill="#e8922a"/>
<path d="M324.45 405.95L326.55 402.27L322.35 402.27Z" fill="#e8922a"/>
<path d="M330.35 405.95L332.45 402.27L328.25 402.27Z" fill="#e8922a"/>
<path d="M327.75 414.56L329.85 410.89L325.65 410.89Z" fill="#e8922a"/>
<line x1="317.25" y1="405.70" x2="338.25" y2="405.70" stroke="#e8922a" stroke-width="1.2"/>
<line x1="327.75" y1="404.20" x2="327.75" y2="407.70" stroke="#e8922a" stroke-width="1.2"/>
<line x1="321.95" y1="404.20" x2="333.55" y2="404.20" stroke="#e8922a" stroke-width="1.2"/>
<line x1="321.95" y1="407.70" x2="333.55" y2="407.70" stroke="#e8922a" stroke-width="1.2"/>
<path d="M350.80 391.07L353.05 393.32L350.80 395.57L348.55 393.32Z" fill="#e8922a"/>
<path d="M359.70 388.75L361.95 391.00L359.70 393.25L357.45 391.00Z" fill="#e8922a"/>
<path d="M368.10 391.07L370.35 393.32L368.10 395.57L365.85 393.32Z" fill="#e8922a"/>
<path d="M355.40 396.70L357.65 398.95L355.40 401.20L353.15 398.95Z" fill="#e8922a"/>
<path d="M363.90 396.70L366.15 398.95L363.90 401.20L361.65 398.95Z" fill="#e8922a"/>
<line x1="349.00" y1="395.00" x2="370.00" y2="395.00" stroke="#e8922a" stroke-width="1.2"/>
<line x1="359.50" y1="394.30" x2="359.50" y2="397.10" stroke="#e8922a" stroke-width="1.2"/>
<line x1="353.70" y1="394.30" x2="365.30" y2="394.30" stroke="#e8922a" stroke-width="1.2"/>
<line x1="353.70" y1="397.10" x2="365.30" y2="397.10" stroke="#e8922a" stroke-width="1.2"/>
<rect x="385.05" y="374.12" width="4.20" height="4.20" fill="#e8922a"/>
<rect x="385.05" y="377.17" width="4.20" height="4.20" fill="#e8922a"/>
<rect x="393.35" y="377.70" width="4.20" height="4.20" fill="#e8922a"/>
<rect x="388.25" y="385.45" width="4.20" height="4.20" fill="#e8922a"/>
<rect x="388.75" y="391.08" width="4.20" height="4.20" fill="#e8922a"/>
<line x1="380.75" y1="383.70" x2="401.75" y2="383.70" stroke="#e8922a" stroke-width="1.2"/>
<line x1="391.25" y1="381.00" x2="391.25" y2="386.80" stroke="#e8922a" stroke-width="1.2"/>
<line x1="385.45" y1="381.00" x2="397.05" y2="381.00" stroke="#e8922a" stroke-width="1.2"/>
<line x1="385.45" y1="386.80" x2="397.05" y2="386.80" stroke="#e8922a" stroke-width="1.2"/>
<circle cx="423.00" cy="371.19" r="2.10" fill="#e8922a"/>
<circle cx="427.30" cy="376.75" r="2.10" fill="#e8922a"/>
<circle cx="418.70" cy="379.80" r="2.10" fill="#e8922a"/>
<circle cx="427.30" cy="383.18" r="2.10" fill="#e8922a"/>
<circle cx="423.00" cy="389.34" r="2.10" fill="#e8922a"/>
<line x1="412.50" y1="380.20" x2="433.50" y2="380.20" stroke="#e8922a" stroke-width="1.2"/>
<line x1="423.00" y1="376.90" x2="423.00" y2="383.70" stroke="#e8922a" stroke-width="1.2"/>
<line x1="417.20" y1="376.90" x2="428.80" y2="376.90" stroke="#e8922a" stroke-width="1.2"/>
<line x1="417.20" y1="383.70" x2="428.80" y2="383.70" stroke="#e8922a" stroke-width="1.2"/>
<path d="M327.75 352.65V348.95H423.00V352.65" fill="none" stroke="#333" stroke-width="1.3"/>
<polygon points="372.82,340.30 373.53,341.83 375.20,342.03 373.97,343.17 374.29,344.82 372.82,344.00 371.36,344.82 371.68,343.17 370.45,342.03 372.12,341.83" fill="#111" stroke="#111" stroke-width="0.5" stroke-linejoin="round"/>
<polygon points="377.93,340.30 378.63,341.83 380.30,342.03 379.07,343.17 379.39,344.82 377.93,344.00 376.46,344.82 376.78,343.17 375.55,342.03 377.22,341.83" fill="#111" stroke="#111" stroke-width="0.5" stroke-linejoin="round"/>
<path d="M327.75 369.45V365.75H391.25V369.45" fill="none" stroke="#333" stroke-width="1.3"/>
<polygon points="359.50,357.10 360.21,358.63 361.88,358.83 360.64,359.97 360.97,361.62 359.50,360.80 358.03,361.62 358.36,359.97 357.12,358.83 358.79,358.63" fill="#111" stroke="#111" stroke-width="0.5" stroke-linejoin="round"/>
<text x="489.10" y="278.70" font-size="13.8" font-weight="bold" text-anchor="start" fill="#111" stroke="#111">F</text>
<text x="603.52" y="305.30" font-size="11.3" font-weight="bold" text-anchor="middle" fill="#111" stroke="#111">No-fiber irr</text>
<line x1="524.05" y1="321.10" x2="524.05" y2="428.00" stroke="#222" stroke-width="1.2"/>
<line x1="519.85" y1="427.70" x2="524.05" y2="427.70" stroke="#222" stroke-width="1.2"/>
<text x="517.95" y="431.20" font-size="10" font-weight="bold" text-anchor="end" fill="#111" stroke="#111">-60</text>
<line x1="519.85" y1="414.45" x2="524.05" y2="414.45" stroke="#222" stroke-width="1.2"/>
<text x="517.95" y="417.95" font-size="10" font-weight="bold" text-anchor="end" fill="#111" stroke="#111">-40</text>
<line x1="519.85" y1="401.20" x2="524.05" y2="401.20" stroke="#222" stroke-width="1.2"/>
<text x="517.95" y="404.70" font-size="10" font-weight="bold" text-anchor="end" fill="#111" stroke="#111">-20</text>
<line x1="519.85" y1="387.95" x2="524.05" y2="387.95" stroke="#222" stroke-width="1.2"/>
<text x="517.95" y="391.45" font-size="10" font-weight="bold" text-anchor="end" fill="#111" stroke="#111">0</text>
<line x1="519.85" y1="374.70" x2="524.05" y2="374.70" stroke="#222" stroke-width="1.2"/>
<text x="517.95" y="378.20" font-size="10" font-weight="bold" text-anchor="end" fill="#111" stroke="#111">20</text>
<line x1="519.85" y1="361.45" x2="524.05" y2="361.45" stroke="#222" stroke-width="1.2"/>
<text x="517.95" y="364.95" font-size="10" font-weight="bold" text-anchor="end" fill="#111" stroke="#111">40</text>
<line x1="519.85" y1="348.20" x2="524.05" y2="348.20" stroke="#222" stroke-width="1.2"/>
<text x="517.95" y="351.70" font-size="10" font-weight="bold" text-anchor="end" fill="#111" stroke="#111">60</text>
<line x1="519.85" y1="334.95" x2="524.05" y2="334.95" stroke="#222" stroke-width="1.2"/>
<text x="517.95" y="338.45" font-size="10" font-weight="bold" text-anchor="end" fill="#111" stroke="#111">80</text>
<line x1="519.85" y1="321.70" x2="524.05" y2="321.70" stroke="#222" stroke-width="1.2"/>
<text x="517.95" y="325.20" font-size="10" font-weight="bold" text-anchor="end" fill="#111" stroke="#111">100</text>
<line x1="523.45" y1="427.40" x2="683.00" y2="427.40" stroke="#222" stroke-width="1.2"/>
<line x1="540.05" y1="427.40" x2="540.05" y2="431.80" stroke="#222" stroke-width="1.2"/>
<text x="542.25" y="440.60" font-size="10.4" font-weight="bold" text-anchor="end" fill="#111" stroke="#111" transform="rotate(-45 542.25 440.60)">W-2</text>
<line x1="571.80" y1="427.40" x2="571.80" y2="431.80" stroke="#222" stroke-width="1.2"/>
<text x="574.00" y="440.60" font-size="10.4" font-weight="bold" text-anchor="end" fill="#111" stroke="#111" transform="rotate(-45 574.00 440.60)">W0</text>
<line x1="603.55" y1="427.40" x2="603.55" y2="431.80" stroke="#222" stroke-width="1.2"/>
<text x="605.75" y="440.60" font-size="10.4" font-weight="bold" text-anchor="end" fill="#111" stroke="#111" transform="rotate(-45 605.75 440.60)">W1</text>
<line x1="635.30" y1="427.40" x2="635.30" y2="431.80" stroke="#222" stroke-width="1.2"/>
<text x="637.50" y="440.60" font-size="10.4" font-weight="bold" text-anchor="end" fill="#111" stroke="#111" transform="rotate(-45 637.50 440.60)">W3</text>
<line x1="667.05" y1="427.40" x2="667.05" y2="431.80" stroke="#222" stroke-width="1.2"/>
<text x="669.25" y="440.60" font-size="10.4" font-weight="bold" text-anchor="end" fill="#111" stroke="#111" transform="rotate(-45 669.25 440.60)">W6</text>
<text x="496.25" y="374.55" font-size="8.6" font-weight="bold" text-anchor="middle" fill="#111" stroke="#111" transform="rotate(-90 496.25 374.55)">Muc2 O-glycan degradation (%)</text>
<text x="603.52" y="466.00" font-size="9.8" font-weight="bold" text-anchor="middle" fill="#111" stroke="#111">Time (weeks)</text>
<circle cx="540.05" cy="366.29" r="2.10" fill="#e8302a"/>
<circle cx="540.05" cy="377.68" r="2.10" fill="#e8302a"/>
<circle cx="540.05" cy="419.75" r="2.10" fill="#e8302a"/>
<line x1="529.55" y1="387.90" x2="550.55" y2="387.90" stroke="#e8302a" stroke-width="1.2"/>
<line x1="540.05" y1="371.90" x2="540.05" y2="404.20" stroke="#e8302a" stroke-width="1.2"/>
<line x1="534.25" y1="371.90" x2="545.85" y2="371.90" stroke="#e8302a" stroke-width="1.2"/>
<line x1="534.25" y1="404.20" x2="545.85" y2="404.20" stroke="#e8302a" stroke-width="1.2"/>
<path d="M571.80 349.50L573.90 345.83L569.70 345.83Z" fill="#e8302a"/>
<path d="M563.10 354.28L565.20 350.60L561.00 350.60Z" fill="#e8302a"/>
<path d="M580.70 357.19L582.80 353.51L578.60 353.51Z" fill="#e8302a"/>
<path d="M563.10 364.88L565.20 361.20L561.00 361.20Z" fill="#e8302a"/>
<path d="M580.70 362.89L582.80 359.21L578.60 359.21Z" fill="#e8302a"/>
<path d="M571.80 359.44L573.90 355.77L569.70 355.77Z" fill="#e8302a"/>
<line x1="561.30" y1="356.90" x2="582.30" y2="356.90" stroke="#e8302a" stroke-width="1.2"/>
<line x1="571.80" y1="354.90" x2="571.80" y2="360.20" stroke="#e8302a" stroke-width="1.2"/>
<line x1="566.00" y1="354.90" x2="577.60" y2="354.90" stroke="#e8302a" stroke-width="1.2"/>
<line x1="566.00" y1="360.20" x2="577.60" y2="360.20" stroke="#e8302a" stroke-width="1.2"/>
<path d="M603.85 330.45L606.10 332.70L603.85 334.95L601.60 332.70Z" fill="#e8302a"/>
<path d="M599.05 341.84L601.30 344.09L599.05 346.34L596.80 344.09Z" fill="#e8302a"/>
<path d="M608.15 345.15L610.40 347.40L608.15 349.65L605.90 347.40Z" fill="#e8302a"/>
<path d="M603.85 361.98L606.10 364.23L603.85 366.48L601.60 364.23Z" fill="#e8302a"/>
<path d="M603.85 375.70L606.10 377.95L603.85 380.20L601.60 377.95Z" fill="#e8302a"/>
<path d="M603.85 387.82L606.10 390.07L603.85 392.32L601.60 390.07Z" fill="#e8302a"/>
<line x1="593.05" y1="359.70" x2="614.05" y2="359.70" stroke="#e8302a" stroke-width="1.2"/>
<line x1="603.55" y1="350.20" x2="603.55" y2="368.60" stroke="#e8302a" stroke-width="1.2"/>
<line x1="597.75" y1="350.20" x2="609.35" y2="350.20" stroke="#e8302a" stroke-width="1.2"/>
<line x1="597.75" y1="368.60" x2="609.35" y2="368.60" stroke="#e8302a" stroke-width="1.2"/>
<rect x="633.50" y="344.18" width="4.20" height="4.20" fill="#e8302a"/>
<rect x="641.70" y="342.26" width="4.20" height="4.20" fill="#e8302a"/>
<rect x="624.60" y="356.70" width="4.20" height="4.20" fill="#e8302a"/>
<rect x="641.70" y="355.71" width="4.20" height="4.20" fill="#e8302a"/>
<rect x="633.50" y="351.86" width="4.20" height="4.20" fill="#e8302a"/>
<rect x="633.50" y="354.05" width="4.20" height="4.20" fill="#e8302a"/>
<line x1="624.80" y1="353.20" x2="645.80" y2="353.20" stroke="#e8302a" stroke-width="1.2"/>
<line x1="635.30" y1="350.90" x2="635.30" y2="355.60" stroke="#e8302a" stroke-width="1.2"/>
<line x1="629.50" y1="350.90" x2="641.10" y2="350.90" stroke="#e8302a" stroke-width="1.2"/>
<line x1="629.50" y1="355.60" x2="641.10" y2="355.60" stroke="#e8302a" stroke-width="1.2"/>
<circle cx="666.95" cy="347.74" r="2.10" fill="#e8302a"/>
<circle cx="662.75" cy="352.18" r="2.10" fill="#e8302a"/>
<circle cx="671.05" cy="354.69" r="2.10" fill="#e8302a"/>
<circle cx="662.75" cy="360.79" r="2.10" fill="#e8302a"/>
<circle cx="671.05" cy="361.71" r="2.10" fill="#e8302a"/>
<circle cx="666.95" cy="375.76" r="2.10" fill="#e8302a"/>
<line x1="656.55" y1="359.50" x2="677.55" y2="359.50" stroke="#e8302a" stroke-width="1.2"/>
<line x1="667.05" y1="355.60" x2="667.05" y2="362.60" stroke="#e8302a" stroke-width="1.2"/>
<line x1="661.25" y1="355.60" x2="672.85" y2="355.60" stroke="#e8302a" stroke-width="1.2"/>
<line x1="661.25" y1="362.60" x2="672.85" y2="362.60" stroke="#e8302a" stroke-width="1.2"/>
<text x="2.80" y="536.60" font-size="13.8" font-weight="bold" text-anchor="start" fill="#111" stroke="#111">G</text>
<line x1="34.40" y1="559.30" x2="34.40" y2="666.80" stroke="#555" stroke-width="1.1"/>
<line x1="30.00" y1="666.20" x2="34.40" y2="666.20" stroke="#555" stroke-width="1.1"/>
<text x="28.40" y="669.60" font-size="8.4" font-weight="bold" text-anchor="end" fill="#111" stroke="#111" style="stroke-width:0.1px">-40</text>
<line x1="30.00" y1="651.00" x2="34.40" y2="651.00" stroke="#555" stroke-width="1.1"/>
<text x="28.40" y="654.40" font-size="8.4" font-weight="bold" text-anchor="end" fill="#111" stroke="#111" style="stroke-width:0.1px">-20</text>
<line x1="30.00" y1="635.80" x2="34.40" y2="635.80" stroke="#555" stroke-width="1.1"/>
<text x="28.40" y="639.20" font-size="8.4" font-weight="bold" text-anchor="end" fill="#111" stroke="#111" style="stroke-width:0.1px">0</text>
<line x1="30.00" y1="620.60" x2="34.40" y2="620.60" stroke="#555" stroke-width="1.1"/>
<text x="28.40" y="624.00" font-size="8.4" font-weight="bold" text-anchor="end" fill="#111" stroke="#111" style="stroke-width:0.1px">20</text>
<line x1="30.00" y1="605.40" x2="34.40" y2="605.40" stroke="#555" stroke-width="1.1"/>
<text x="28.40" y="608.80" font-size="8.4" font-weight="bold" text-anchor="end" fill="#111" stroke="#111" style="stroke-width:0.1px">40</text>
<line x1="30.00" y1="590.20" x2="34.40" y2="590.20" stroke="#555" stroke-width="1.1"/>
<text x="28.40" y="593.60" font-size="8.4" font-weight="bold" text-anchor="end" fill="#111" stroke="#111" style="stroke-width:0.1px">60</text>
<line x1="30.00" y1="575.00" x2="34.40" y2="575.00" stroke="#555" stroke-width="1.1"/>
<text x="28.40" y="578.40" font-size="8.4" font-weight="bold" text-anchor="end" fill="#111" stroke="#111" style="stroke-width:0.1px">80</text>
<line x1="30.00" y1="559.80" x2="34.40" y2="559.80" stroke="#555" stroke-width="1.1"/>
<text x="28.40" y="563.20" font-size="8.4" font-weight="bold" text-anchor="end" fill="#111" stroke="#111" style="stroke-width:0.1px">100</text>
<line x1="34.40" y1="635.80" x2="194.50" y2="635.80" stroke="#666" stroke-width="1.6"/>
<line x1="74.30" y1="635.80" x2="74.30" y2="640.00" stroke="#555" stroke-width="1.1"/>
<text x="75.80" y="646.30" font-size="8.2" font-weight="bold" text-anchor="end" fill="#111" stroke="#111" transform="rotate(-45 75.80 646.30)">200</text>
<line x1="114.20" y1="635.80" x2="114.20" y2="640.00" stroke="#555" stroke-width="1.1"/>
<text x="115.70" y="646.30" font-size="8.2" font-weight="bold" text-anchor="end" fill="#111" stroke="#111" transform="rotate(-45 115.70 646.30)">250</text>
<line x1="154.10" y1="635.80" x2="154.10" y2="640.00" stroke="#555" stroke-width="1.1"/>
<text x="155.60" y="646.30" font-size="8.2" font-weight="bold" text-anchor="end" fill="#111" stroke="#111" transform="rotate(-45 155.60 646.30)">300</text>
<line x1="194.00" y1="635.80" x2="194.00" y2="640.00" stroke="#555" stroke-width="1.1"/>
<text x="195.50" y="646.30" font-size="8.2" font-weight="bold" text-anchor="end" fill="#111" stroke="#111" transform="rotate(-45 195.50 646.30)">350</text>
<text x="9.80" y="613.00" font-size="8.6" font-weight="bold" text-anchor="middle" fill="#111" stroke="#111" transform="rotate(-90 9.80 613.00)">Muc2 O-glycan degradation (%)</text>
<text x="113.50" y="690.20" font-size="8.6" font-weight="bold" text-anchor="middle" fill="#111" stroke="#111">Crypt depth (μm)</text>
<text x="137.20" y="562.70" font-size="9.4" font-weight="normal" text-anchor="start" fill="#111" stroke="#111" style="stroke-width:0.15px">r = -0.56</text>
<text x="137.20" y="573.20" font-size="9.4" font-weight="normal" text-anchor="start" fill="#111" stroke="#111" style="stroke-width:0.15px">p = 0.03</text>
<path d="M41.00 595.80L43.80 600.40L38.20 600.40Z" fill="#a31d22"/>
<path d="M49.70 619.30L52.50 623.90L46.90 623.90Z" fill="#a31d22"/>
<path d="M56.10 592.40L58.90 597.00L53.30 597.00Z" fill="#a31d22"/>
<path d="M69.20 587.10L72.00 591.70L66.40 591.70Z" fill="#a31d22"/>
<path d="M76.90 603.50L79.70 608.10L74.10 608.10Z" fill="#a31d22"/>
<path d="M85.00 623.30L87.80 627.90L82.20 627.90Z" fill="#a31d22"/>
<path d="M87.00 621.00L89.80 625.60L84.20 625.60Z" fill="#a31d22"/>
<path d="M101.10 604.20L103.90 608.80L98.30 608.80Z" fill="#a31d22"/>
<path d="M103.40 624.30L106.20 628.90L100.60 628.90Z" fill="#a31d22"/>
<path d="M109.50 604.20L112.30 608.80L106.70 608.80Z" fill="#a31d22"/>
<path d="M111.80 630.00L114.60 634.60L109.00 634.60Z" fill="#a31d22"/>
<path d="M116.20 604.20L119.00 608.80L113.40 608.80Z" fill="#a31d22"/>
<path d="M118.20 607.20L121.00 611.80L115.40 611.80Z" fill="#a31d22"/>
<path d="M129.30 616.60L132.10 621.20L126.50 621.20Z" fill="#a31d22"/>
<path d="M128.00 655.40L130.80 660.00L125.20 660.00Z" fill="#a31d22"/>
<path d="M148.80 630.70L151.60 635.30L146.00 635.30Z" fill="#a31d22"/>
</svg></body></html>
